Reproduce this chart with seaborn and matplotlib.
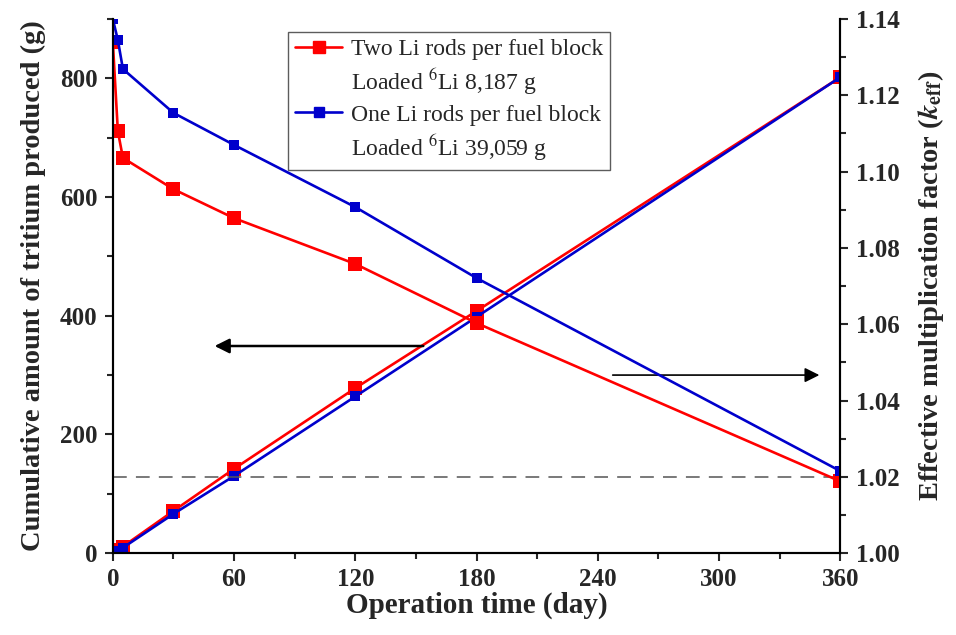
import pandas as pd
import seaborn as sns
import matplotlib.pyplot as plt
from matplotlib.lines import Line2D
from matplotlib.ticker import MultipleLocator

# Data
days = [0, 2.5, 5, 30, 60, 120, 180, 360]
tritium_two = [0, 6, 11, 71, 142, 278, 408, 802]
tritium_one = [0, 4, 9, 66, 130, 264, 398, 802]
keff_two = [1.134, 1.1106, 1.1036, 1.0954, 1.0878, 1.0758, 1.0603, 1.0188]
keff_one = [1.140, 1.1345, 1.1269, 1.1154, 1.1070, 1.0907, 1.0721, 1.0215]
series = ["Two Li rods per fuel block", "One Li rods per fuel block"]
loaded = [r"Loaded $^{6}$Li 8,187 g", r"Loaded $^{6}$Li 39,059 g"]
colors = {"Two Li rods per fuel block": "#ff0000", "One Li rods per fuel block": "#0000cc"}

df = pd.DataFrame({
    "day": days * 2,
    "tritium": tritium_two + tritium_one,
    "keff": keff_two + keff_one,
    "case": [series[0]] * len(days) + [series[1]] * len(days),
})

sns.set_style("ticks")
plt.rcParams["font.family"] = ["Liberation Serif", "DejaVu Serif"]
plt.rcParams["mathtext.fontset"] = "stix"

fig = plt.figure(figsize=(9.56, 6.35), dpi=100)
ax = fig.add_axes([0.118, 0.129, 0.761, 0.841])
ax2 = ax.twinx()

for name in series:
    sub = df[df["case"] == name]
    ms = 10 if name == series[0] else 7.5
    sns.lineplot(data=sub, x="day", y="tritium", color=colors[name], marker="s",
                 markersize=ms, markeredgewidth=0, linewidth=1.9, ax=ax, legend=False)
    sns.lineplot(data=sub, x="day", y="keff", color=colors[name], marker="s",
                 markersize=ms, markeredgewidth=0, linewidth=1.9, ax=ax2, legend=False)

ax2.axhline(1.02, color="#555555", linewidth=1.1, dashes=(9, 6), zorder=0)

ax.set_xlim(0, 360)
ax.set_ylim(0, 900)
ax2.set_ylim(1.00, 1.14)
ax.xaxis.set_major_locator(MultipleLocator(60))
ax.xaxis.set_minor_locator(MultipleLocator(30))
ax.yaxis.set_major_locator(MultipleLocator(200))
ax.yaxis.set_minor_locator(MultipleLocator(100))
ax2.yaxis.set_major_locator(MultipleLocator(0.02))
ax2.yaxis.set_minor_locator(MultipleLocator(0.01))
ax2.yaxis.set_major_formatter(plt.FormatStrFormatter("%.2f"))

for a in (ax, ax2):
    for s in a.spines.values():
        s.set_linewidth(1.5)
        s.set_color("black")
    a.spines["top"].set_visible(False)
    a.tick_params(which="major", length=6, width=1.5, labelsize=18, direction="out", pad=5)
    a.tick_params(which="minor", length=4, width=1.5, direction="out")
    for lab in a.get_xticklabels() + a.get_yticklabels():
        lab.set_fontweight("bold")

ax.set_xlabel("Operation time (day)", fontsize=21, fontweight="bold", labelpad=0)
ax.set_ylabel("Cumulative amount of tritium produced (g)", fontsize=20.5,
              fontweight="bold", labelpad=10)
ax2.set_ylabel(r"Effective multiplication factor ($\mathbfit{k}_{\mathbf{eff}}$)",
               fontsize=20.5, fontweight="bold", labelpad=12)

# direction arrows
ax.annotate("", xy=(49, 349), xytext=(155, 349),
            arrowprops=dict(arrowstyle="-|>", color="black", lw=1.8, mutation_scale=22))
ax.annotate("", xy=(351, 300), xytext=(246, 300),
            arrowprops=dict(arrowstyle="-|>", color="black", lw=1.2, mutation_scale=22))

blank = Line2D([], [], linestyle="none")
handles = [
    Line2D([], [], color=colors[series[0]], marker="s", markersize=8, linewidth=1.9),
    blank,
    Line2D([], [], color=colors[series[1]], marker="s", markersize=7, linewidth=1.9),
    blank,
]
labels = [series[0], loaded[0], series[1], loaded[1]]
leg = ax.legend(handles, labels, loc="upper left", bbox_to_anchor=(0.241, 0.976),
                borderaxespad=0, fontsize=17, frameon=True, fancybox=False,
                edgecolor="#333333", handlelength=2.0, handletextpad=0.35,
                labelspacing=0.28, borderpad=0.3)
leg.get_frame().set_linewidth(1.0)

fig.savefig("out.png", dpi=100)
